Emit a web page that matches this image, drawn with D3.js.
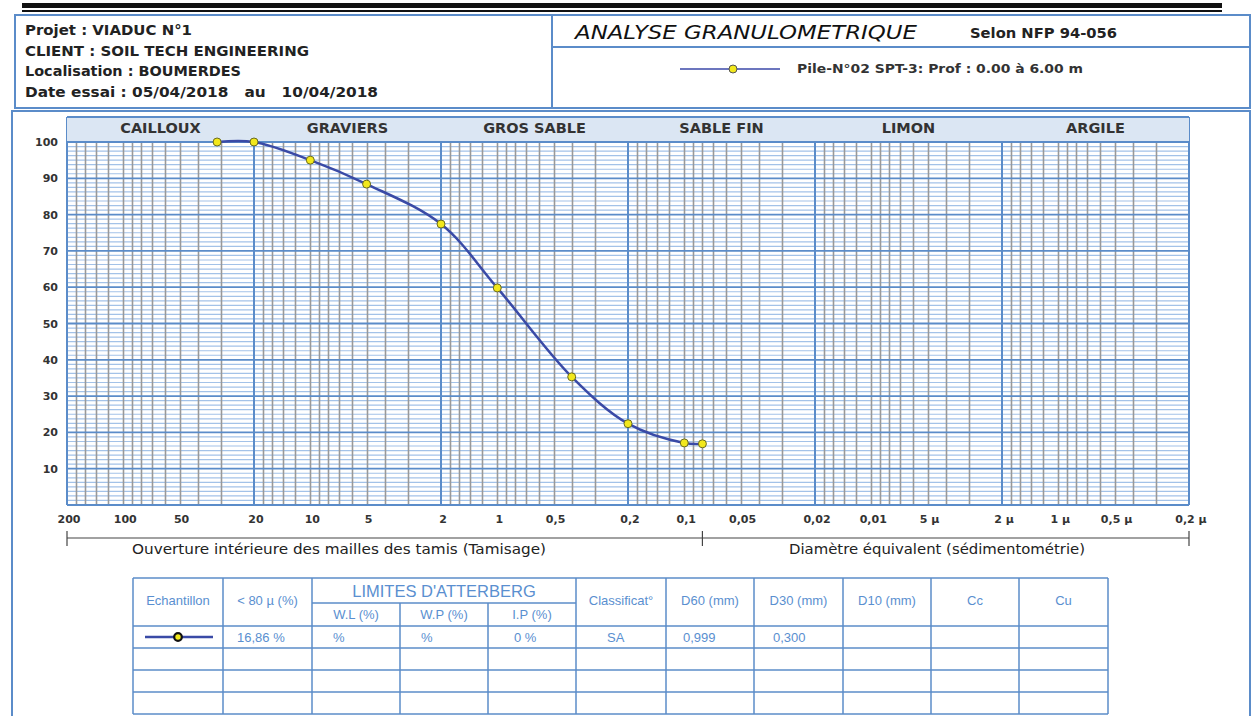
<!DOCTYPE html>
<html>
<head>
<meta charset="utf-8">
<script src="https://cdn.jsdelivr.net/npm/d3@7"></script>
<style>
body { margin: 0; background: #fff; }
svg text { white-space: pre; }
</style>
</head>
<body>
<svg id="svg0" width="1258" height="716"></svg>
<script>
// ---- data ----
var categories = ['CAILLOUX', 'GRAVIERS', 'GROS SABLE', 'SABLE FIN', 'LIMON', 'ARGILE'];
var category_bounds = [200, 20, 2, 0.2, 0.02, 0.002, 0.0002];
var sieve_sizes = [31.5, 20, 10, 5, 2, 1, 0.4, 0.2, 0.1, 0.08];
var passing = [100, 100, 95, 88.4, 77.4, 59.8, 35.3, 22.4, 17.1, 16.86];
var x_tick_values = [200, 100, 50, 20, 10, 5, 2, 1, 0.5, 0.2, 0.1, 0.05, 0.02, 0.01, 0.005, 0.002, 0.001, 0.0005, 0.0002];
var x_tick_labels = ['200', '100', '50', '20', '10', '5', '2', '1', '0,5', '0,2', '0,1', '0,05', '0,02', '0,01', '5 µ', '2 µ', '1 µ', '0,5 µ', '0,2 µ'];
var y_tick_values = [10, 20, 30, 40, 50, 60, 70, 80, 90, 100];
var minor_steps = [3, 4, 5, 6, 7, 8, 9, 10, 12, 14, 16, 18];
var sieve_limit = 0.08;

var header_lines = ['Projet : VIADUC N°1', 'CLIENT : SOIL TECH ENGINEERING', 'Localisation : BOUMERDES', 'Date essai : 05/04/2018   au   10/04/2018'];
var title = 'ANALYSE GRANULOMETRIQUE';
var norm = 'Selon NFP 94-056';
var series_name = 'Pile-N°02 SPT-3: Prof : 0.00 à 6.00 m';

var table_cols = ['Echantillon', '< 80 µ (%)', 'W.L (%)', 'W.P (%)', 'I.P (%)', 'Classificat°', 'D60 (mm)', 'D30 (mm)', 'D10 (mm)', 'Cc', 'Cu'];
var table_row1 = ['', '16,86 %', '%', '%', '0 %', 'SA', '0,999', '0,300', '', '', ''];

var svg0 = d3.select('#svg0');
var blue = '#5b8cc9', dark = '#333';

// widths the text takes on the sheet (it is a stretched scan)
var header_widths = [167, 284, 216, 353];
var row1_pad = [0, 14, 21, 21, 26, 31, 17, 19, 0, 0, 0];

// ---- top bars and frames ----
svg0.append('rect').attr('x', 22).attr('y', 3).attr('width', 1200).attr('height', 5).attr('fill', '#111');
svg0.append('rect').attr('x', 22).attr('y', 10).attr('width', 1200).attr('height', 2).attr('fill', '#111');

svg0.append('rect').attr('x', 15).attr('y', 15).attr('width', 537).attr('height', 93).attr('fill', 'none').attr('stroke', blue).attr('stroke-width', 2);
svg0.append('rect').attr('x', 552).attr('y', 15).attr('width', 698).attr('height', 93).attr('fill', 'none').attr('stroke', blue).attr('stroke-width', 2);
svg0.append('line').attr('x1', 552).attr('x2', 1250).attr('y1', 47).attr('y2', 47).attr('stroke', blue).attr('stroke-width', 2);
svg0.append('rect').attr('x', 12).attr('y', 111).attr('width', 1238).attr('height', 610).attr('fill', 'none').attr('stroke', blue).attr('stroke-width', 2);

svg0.selectAll('.hdr').data(header_lines).enter().append('text').attr('class', 'hdr')
	.attr('x', 25).attr('y', (d, i) => 35 + i * 20.5)
	.attr('font-family', 'DejaVu Sans').attr('font-size', 13.5).attr('font-weight', 'bold').attr('fill', '#222')
	.attr('textLength', (d, i) => header_widths[i]).attr('lengthAdjust', 'spacingAndGlyphs')
	.text(d => d);

svg0.append('text').attr('x', 575).attr('y', 39).attr('font-family', 'DejaVu Sans').attr('font-style', 'italic')
	.attr('font-size', 19).attr('fill', '#111').attr('textLength', 342).attr('lengthAdjust', 'spacingAndGlyphs').text(title);
svg0.append('text').attr('x', 970).attr('y', 38).attr('font-family', 'DejaVu Sans').attr('font-size', 13.5).attr('font-weight', 'bold').attr('fill', '#222')
	.attr('textLength', 147).attr('lengthAdjust', 'spacingAndGlyphs').text(norm);

// ---- scales ----
var x = d3.scaleLog().domain([200, 0.0002]).range([67, 1189]);
var y = d3.scaleLinear().domain([0, 100]).range([505, 142]);
var band_top = 117;

// legend
svg0.append('line').attr('x1', 680).attr('x2', 780).attr('y1', 69).attr('y2', 69).attr('stroke', '#3b48a8').attr('stroke-width', 1.5);
svg0.append('circle').attr('cx', 733).attr('cy', 69).attr('r', 4).attr('fill', '#f2e81c').attr('stroke', '#555').attr('stroke-width', 1);
svg0.append('text').attr('x', 797).attr('y', 73).attr('font-family', 'DejaVu Sans').attr('font-size', 12.5).attr('font-weight', 'bold').attr('fill', '#333')
	.attr('textLength', 286).attr('lengthAdjust', 'spacingAndGlyphs').text(series_name);

// ---- grid ----
var minor_x = [];
category_bounds.slice(1).forEach(b => minor_steps.forEach(m => minor_x.push(b * m / 2)));
var minor_y = d3.range(1.25, 100, 1.25).filter(v => v % 10 != 0);

var grid = svg0.append('g');
grid.selectAll('.hminor').data(minor_y).enter().append('line')
	.attr('x1', x(200)).attr('x2', x(0.0002)).attr('y1', d => y(d)).attr('y2', d => y(d))
	.attr('stroke', '#a3c2e8').attr('stroke-width', 1.2);
grid.selectAll('.vminor').data(minor_x).enter().append('line')
	.attr('x1', d => Math.round(x(d)) + 0.5).attr('x2', d => Math.round(x(d)) + 0.5).attr('y1', y(100)).attr('y2', y(0))
	.attr('stroke', '#999').attr('stroke-width', 1.6);
grid.selectAll('.hmajor').data(y_tick_values.concat([0])).enter().append('line')
	.attr('x1', x(200)).attr('x2', x(0.0002)).attr('y1', d => y(d)).attr('y2', d => y(d))
	.attr('stroke', blue).attr('stroke-width', 1.8);

// category band
svg0.selectAll('.band').data(categories).enter().append('rect')
	.attr('x', (d, i) => x(category_bounds[i])).attr('y', band_top)
	.attr('width', (d, i) => x(category_bounds[i + 1]) - x(category_bounds[i])).attr('height', y(100) - band_top)
	.attr('fill', '#dbe6f3');
grid.selectAll('.vmajor').data(category_bounds).enter().append('line')
	.attr('x1', d => x(d)).attr('x2', d => x(d)).attr('y1', band_top).attr('y2', y(0))
	.attr('stroke', blue).attr('stroke-width', 2);
svg0.append('line').attr('x1', x(200)).attr('x2', x(0.0002)).attr('y1', band_top).attr('y2', band_top).attr('stroke', blue).attr('stroke-width', 2);
svg0.append('line').attr('x1', x(200)).attr('x2', x(0.0002)).attr('y1', y(100)).attr('y2', y(100)).attr('stroke', blue).attr('stroke-width', 2);
svg0.selectAll('.bandlbl').data(categories).enter().append('text')
	.attr('x', (d, i) => (x(category_bounds[i]) + x(category_bounds[i + 1])) / 2).attr('y', 133)
	.attr('text-anchor', 'middle').attr('font-family', 'DejaVu Sans').attr('font-size', 14.5).attr('font-weight', 'bold')
	.attr('fill', dark).text(d => d);

// axis labels
svg0.selectAll('.ylbl').data(y_tick_values).enter().append('text')
	.attr('x', 58).attr('y', d => y(d) + 4).attr('text-anchor', 'end')
	.attr('font-family', 'DejaVu Sans').attr('font-size', 11).attr('font-weight', 'bold').attr('fill', dark).text(d => d);
svg0.selectAll('.xlbl').data(x_tick_values).enter().append('text')
	.attr('x', d => x(d) + 2).attr('y', 523).attr('text-anchor', 'middle')
	.attr('font-family', 'DejaVu Sans').attr('font-size', 11).attr('font-weight', 'bold').attr('fill', dark)
	.text((d, i) => x_tick_labels[i]);

// bracket under axis
var br = svg0.append('g').attr('stroke', '#444').attr('stroke-width', 1.2);
br.append('line').attr('x1', x(200)).attr('x2', x(0.0002)).attr('y1', 538).attr('y2', 538);
[200, sieve_limit, 0.0002].forEach(v => br.append('line').attr('x1', x(v)).attr('x2', x(v)).attr('y1', 531).attr('y2', 546));
svg0.append('text').attr('x', 132).attr('y', 554)
	.attr('font-family', 'DejaVu Sans').attr('font-size', 13.5).attr('fill', '#222')
	.attr('textLength', 414).attr('lengthAdjust', 'spacingAndGlyphs').text('Ouverture intérieure des mailles des tamis (Tamisage)');
svg0.append('text').attr('x', 789).attr('y', 554)
	.attr('font-family', 'DejaVu Sans').attr('font-size', 13.5).attr('fill', '#222')
	.attr('textLength', 296).attr('lengthAdjust', 'spacingAndGlyphs').text('Diamètre équivalent (sédimentométrie)');

// ---- curve ----
var pts = sieve_sizes.map((s, i) => [x(s), y(passing[i])]);
svg0.append('path').attr('d', d3.line().curve(d3.curveCatmullRom.alpha(0.5))(pts))
	.attr('fill', 'none').attr('stroke', '#3a4aa6').attr('stroke-width', 2.5);
svg0.selectAll('.pt').data(pts).enter().append('circle')
	.attr('cx', d => d[0]).attr('cy', d => d[1]).attr('r', 4)
	.attr('fill', '#f2e81c').attr('stroke', '#6a6a20').attr('stroke-width', 1);

// ---- table ----
var col_x = [133, 223, 312, 400, 488, 576, 666, 754, 843, 931, 1019, 1108];
var row_y = [578, 603, 626, 648, 670, 692, 714];
var tcol = '#5a8fd0';
var tb = svg0.append('g').attr('stroke', blue).attr('stroke-width', 1.5);
tb.append('line').attr('x1', col_x[0]).attr('x2', col_x[11]).attr('y1', row_y[0]).attr('y2', row_y[0]);
tb.append('line').attr('x1', col_x[2]).attr('x2', col_x[5]).attr('y1', row_y[1]).attr('y2', row_y[1]);
row_y.slice(2).forEach(r => tb.append('line').attr('x1', col_x[0]).attr('x2', col_x[11]).attr('y1', r).attr('y2', r));
col_x.forEach((c, i) => tb.append('line').attr('x1', c).attr('x2', c)
	.attr('y1', (i == 3 || i == 4) ? row_y[1] : row_y[0]).attr('y2', row_y[6]));

var tfont = 'Liberation Sans';
var hdr_y = d => (d >= 2 && d <= 4) ? 619 : 605;
table_cols.forEach((c, i) => {
	svg0.append('text').attr('x', (col_x[i] + col_x[i + 1]) / 2).attr('y', hdr_y(i)).attr('text-anchor', 'middle')
		.attr('font-family', tfont).attr('font-size', 13).attr('fill', tcol).text(c);
});
svg0.append('text').attr('x', (col_x[2] + col_x[5]) / 2).attr('y', 597).attr('text-anchor', 'middle')
	.attr('font-family', tfont).attr('font-size', 16.5).attr('fill', tcol).text("LIMITES D'ATTERBERG");
table_row1.forEach((v, i) => {
	svg0.append('text').attr('x', col_x[i] + row1_pad[i]).attr('y', 642)
		.attr('font-family', tfont).attr('font-size', 13).attr('fill', tcol).text(v);
});
svg0.append('line').attr('x1', 145).attr('x2', 213).attr('y1', 637).attr('y2', 637).attr('stroke', '#3a4aa6').attr('stroke-width', 2.5);
svg0.append('circle').attr('cx', 178).attr('cy', 637).attr('r', 3.8).attr('fill', '#f2e81c').attr('stroke', '#111').attr('stroke-width', 2.2);
</script>
</body>
</html>
